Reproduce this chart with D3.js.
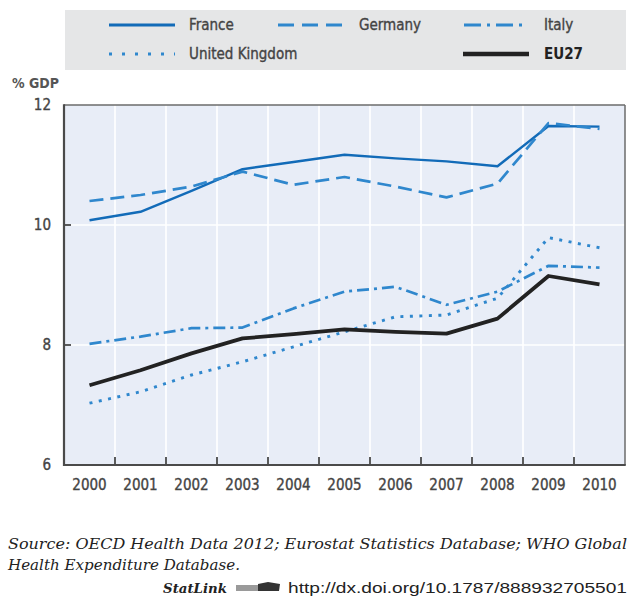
<!DOCTYPE html>
<html><head><meta charset="utf-8">
<script src="https://cdn.jsdelivr.net/npm/d3@7"></script>
<style>body{margin:0;background:#fff}svg{display:block}</style>
</head><body>
<svg id="c" width="629" height="597"></svg>
<script>
const years = ["2000","2001","2002","2003","2004","2005","2006","2007","2008","2009","2010"];
const france  = [10.08,10.22,10.57,10.93,11.05,11.17,11.11,11.06,10.98,11.65,11.64];
const germany = [10.40,10.50,10.64,10.89,10.67,10.80,10.64,10.46,10.69,11.70,11.60];
const italy   = [8.02,8.14,8.28,8.29,8.61,8.89,8.97,8.67,8.89,9.32,9.29];
const uk      = [7.03,7.22,7.50,7.72,7.97,8.22,8.47,8.50,8.78,9.79,9.62];
const eu27    = [7.33,7.58,7.86,8.11,8.18,8.26,8.22,8.19,8.44,9.15,9.01];
const yTicks  = [6,8,10,12];
const seriesNames = ["France","Germany","Italy","United Kingdom","EU27"];
const yLabel = "% GDP";
const sourceLines = ["Source: OECD Health Data 2012; Eurostat Statistics Database; WHO Global","Health Expenditure Database."];
const statUrl = "http://dx.doi.org/10.1787/888932705501";

const styles = {
  "France":{color:"#126bb8",width:2.4,dash:null,ldash:null},
  "Germany":{color:"#2f87cd",width:2.7,dash:"14,7",ldash:"16,8"},
  "Italy":{color:"#2f87cd",width:2.7,dash:"12,5,3,5",ldash:"17,6,3,6"},
  "United Kingdom":{color:"#2f87cd",width:2.9,dash:"3,6.5",ldash:"3,10"},
  "EU27":{color:"#222222",width:3.8,dash:null,ldash:null}
};
const data = {"France":france,"Germany":germany,"Italy":italy,"United Kingdom":uk,"EU27":eu27};

const svg = d3.select("#c");
const L=64,R=625,T=105,B=465;
const x = d3.scaleBand().domain(years).range([L,R]).padding(0);
const y = d3.scaleLinear().domain([6,12]).range([B,T]);
const font = "'DejaVu Sans Condensed','Liberation Sans Narrow','Liberation Sans',sans-serif";

// legend box
svg.append("rect").attr("x",65).attr("y",10).attr("width",561).attr("height",60).attr("fill","#e5e6e7");
const legPos = [
  {n:"France",x1:109,x2:175,tx:189,y:25},
  {n:"Germany",x1:278,x2:342,tx:359,y:25},
  {n:"Italy",x1:464,x2:527,tx:544,y:25},
  {n:"United Kingdom",x1:109,x2:175,tx:189,y:54},
  {n:"EU27",x1:463,x2:529,tx:544,y:54}
];
legPos.forEach(p=>{
  const s=styles[p.n];
  svg.append("line").attr("x1",p.x1).attr("x2",p.x2).attr("y1",p.y).attr("y2",p.y)
    .attr("stroke",s.color).attr("stroke-width",p.n==="EU27"?4.5:3)
    .attr("stroke-dasharray",s.ldash);
  svg.append("text").attr("x",p.tx).attr("y",p.y).attr("dy","0.35em")
    .attr("font-family",font).attr("font-size",15)
    .attr("font-weight",p.n==="EU27"?"bold":"normal")
    .attr("fill",p.n==="EU27"?"#222":"#444")
    .attr("stroke",p.n==="EU27"?"none":"#444").attr("stroke-width",0.35)
    .text(p.n);
});

// plot background
svg.append("rect").attr("x",L).attr("y",T).attr("width",R-L).attr("height",B-T).attr("fill","#e8edf7");

// gridlines
svg.append("g").selectAll("line").data(years.slice(1)).join("line")
  .attr("x1",d=>x(d)).attr("x2",d=>x(d)).attr("y1",T).attr("y2",B)
  .attr("stroke","#fff").attr("stroke-width",1.6);
svg.append("g").selectAll("line").data(yTicks.filter(v=>v>6&&v<12)).join("line")
  .attr("x1",L).attr("x2",R).attr("y1",d=>y(d)).attr("y2",d=>y(d))
  .attr("stroke","#fff").attr("stroke-width",1.6);

// series
const line = d3.line().x((d,i)=>x(years[i])+x.bandwidth()/2).y(d=>y(d));
seriesNames.forEach(n=>{
  const s=styles[n];
  svg.append("path").datum(data[n]).attr("d",line).attr("fill","none")
    .attr("stroke",s.color).attr("stroke-width",s.width).attr("stroke-dasharray",s.dash)
    .attr("stroke-linejoin","round");
});

// borders
svg.append("line").attr("x1",L).attr("x2",R).attr("y1",T).attr("y2",T).attr("stroke","#6b6b6b").attr("stroke-width",1.5);
svg.append("line").attr("x1",R).attr("x2",R).attr("y1",T).attr("y2",B).attr("stroke","#6b6b6b").attr("stroke-width",1.5);

// axes
const xAxis = d3.axisBottom(x).tickSize(0).tickPadding(14);
const gx = svg.append("g").attr("transform",`translate(0,${B})`).call(xAxis);
gx.select(".domain").remove();
gx.selectAll("text").attr("font-family",font).attr("font-size",15).attr("fill","#444")
  .attr("stroke","#444").attr("stroke-width",0.35);
svg.append("g").selectAll("line").data(years.slice(1)).join("line")
  .attr("x1",d=>x(d)).attr("x2",d=>x(d)).attr("y1",B).attr("y2",B-8)
  .attr("stroke","#333").attr("stroke-width",1.6);

const yAxis = d3.axisLeft(y).tickValues(yTicks).tickFormat(d3.format("d")).tickSize(0).tickPadding(13);
const gy = svg.append("g").attr("transform",`translate(${L},0)`).call(yAxis);
gy.select(".domain").remove();
gy.selectAll("text").attr("font-family",font).attr("font-size",15).attr("fill","#444")
  .attr("stroke","#444").attr("stroke-width",0.35);
svg.append("g").selectAll("line").data(yTicks.filter(v=>v>6&&v<12)).join("line")
  .attr("x1",L).attr("x2",L+7).attr("y1",d=>y(d)).attr("y2",d=>y(d))
  .attr("stroke","#333").attr("stroke-width",1.6);

svg.append("line").attr("x1",L).attr("x2",L).attr("y1",T-0.75).attr("y2",B+1).attr("stroke","#4a4a4a").attr("stroke-width",2.2);
svg.append("line").attr("x1",L-1).attr("x2",R+0.75).attr("y1",B).attr("y2",B).attr("stroke","#4a4a4a").attr("stroke-width",2.2);

svg.append("text").attr("x",59).attr("y",83).attr("dy","0.35em").attr("text-anchor","end")
  .attr("font-family",font).attr("font-size",14).attr("font-weight","bold").attr("fill","#555")
  .attr("textLength",47).attr("lengthAdjust","spacingAndGlyphs").text(yLabel);

// source
const sfont = "'DejaVu Serif','Liberation Serif',serif";
svg.append("text").attr("x",8).attr("y",549).attr("font-family",sfont).attr("font-style","italic")
  .attr("font-size",14.5).attr("fill","#222").attr("textLength",619).attr("lengthAdjust","spacingAndGlyphs").text(sourceLines[0]);
svg.append("text").attr("x",8).attr("y",570).attr("font-family",sfont).attr("font-style","italic")
  .attr("font-size",14.5).attr("fill","#222").attr("textLength",232).attr("lengthAdjust","spacingAndGlyphs").text(sourceLines[1]);
svg.append("text").attr("x",163).attr("y",593).attr("font-family",sfont).attr("font-style","italic").attr("font-weight","bold")
  .attr("font-size",13.5).attr("fill","#222").attr("textLength",64).attr("lengthAdjust","spacingAndGlyphs").text("StatLink");
// icon
svg.append("rect").attr("x",236).attr("y",585).attr("width",24).attr("height",6).attr("fill","#9a9a9a");
svg.append("path").attr("d","M258,584 L268,582 L280,584 L279,591 L258,591 Z").attr("fill","#333");
svg.append("text").attr("x",288).attr("y",593).attr("font-family","'Liberation Sans',sans-serif")
  .attr("font-size",14.5).attr("fill","#222").attr("textLength",339).attr("lengthAdjust","spacingAndGlyphs").text(statUrl);
</script>
</body></html>
